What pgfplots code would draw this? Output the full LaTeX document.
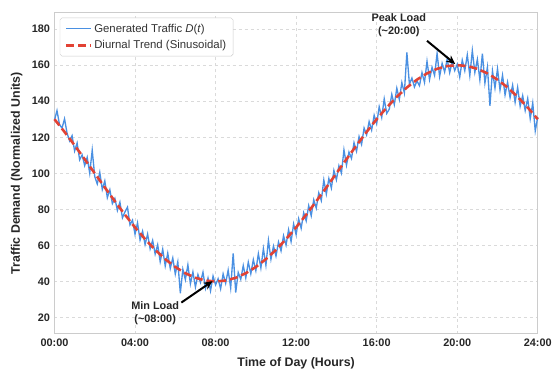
\documentclass[border=0pt]{standalone}
\usepackage{pgfplots}
\pgfplotsset{compat=1.18}
\usepackage{fontspec}
\setmainfont{Liberation Sans}
\usetikzlibrary{arrows.meta}
\definecolor{trafblue}{RGB}{74,144,226}
\definecolor{trendred}{RGB}{226,66,52}
\definecolor{gridgray}{RGB}{218,218,218}
\definecolor{framegray}{RGB}{204,204,204}
\begin{document}
\begin{tikzpicture}
\begin{axis}[
  scale only axis, width=488pt, height=324pt,
  at={(0pt,0pt)}, anchor=south west,
  xmin=0, xmax=24, ymin=11, ymax=189,
  xtick={0,4,8,12,16,20,24},
  xticklabels={00:00,04:00,08:00,12:00,16:00,20:00,24:00},
  ytick={20,40,60,80,100,120,140,160,180},
  major tick length=0pt,
  /pgf/number format/assume math mode=true,
  tick label style={font=\bfseries\fontsize{11}{13}\selectfont, text=black!85},
  xticklabel style={yshift=-2pt},
  yticklabel style={xshift=-1pt},
  grid=major,
  grid style={gridgray, dashed, line width=0.6pt},
  axis line style={framegray, line width=0.8pt},
  xlabel={Time of Day (Hours)},
  ylabel={Traffic Demand (Normalized Units)},
  label style={font=\bfseries\fontsize{12.5}{14}\selectfont, text=black!85},
  xlabel style={at={(axis description cs:0.5,0)}, anchor=center, yshift=-30pt},
  ylabel style={at={(axis description cs:-0.078,0.5)}, anchor=center},
  legend style={at={(axis description cs:0.011,0.985)}, anchor=north west,
    draw=framegray, rounded corners=2pt, fill=white,
    font=\fontsize{11.5}{13.5}\selectfont, text=black!80,
    row sep=3pt, inner xsep=5pt, inner ysep=4pt},
  legend cell align=left,
  legend image code/.code={\draw[#1] (0pt,0pt) -- (25pt,0pt);},
  clip=false,
]
\addplot[trafblue, line width=1.35pt] coordinates {
(0,129.5)(0.125,134.8)(0.25,127.0)(0.375,125.1)(0.5,130.2)(0.625,122.3)(0.75,118.0)(0.875,120.9)
(1.0,112.4)(1.125,116.8)(1.25,107.5)(1.375,110.2)(1.5,104.3)(1.625,108.9)(1.75,100.1)(1.875,112.8)
(2.0,98.2)(2.125,94.1)(2.25,100.6)(2.375,91.0)(2.5,95.8)(2.625,86.5)(2.75,90.9)(2.875,83.2)
(3.0,86.1)(3.125,79.4)(3.25,84.0)(3.375,75.3)(3.5,78.6)(3.625,81.2)(3.75,71.4)(3.875,74.0)
(4.0,66.2)(4.125,72.5)(4.25,63.0)(4.375,67.9)(4.5,60.5)(4.625,66.3)(4.75,58.1)(4.875,62.8)
(5.0,55.2)(5.125,60.4)(5.25,51.0)(5.375,57.9)(5.5,48.6)(5.625,55.7)(5.75,47.2)(5.875,53.0)
(6.0,44.1)(6.125,50.9)(6.25,33.5)(6.375,46.8)(6.5,41.0)(6.625,49.2)(6.75,38.7)(6.875,45.3)
(7.0,36.9)(7.125,43.8)(7.25,39.5)(7.375,45.1)(7.5,36.2)(7.625,41.9)(7.75,34.8)(7.875,43.0)
(8.0,38.1)(8.125,41.5)(8.25,35.9)(8.375,44.2)(8.5,39.0)(8.625,46.3)(8.75,36.4)(8.875,55.6)
(9.0,33.9)(9.125,45.0)(9.25,41.2)(9.375,48.8)(9.5,42.0)(9.625,50.7)(9.75,44.3)(9.875,52.1)
(10.0,46.0)(10.125,55.4)(10.25,47.5)(10.375,58.2)(10.5,49.0)(10.625,62.8)(10.75,52.3)(10.875,59.6)
(11.0,54.1)(11.125,61.9)(11.25,57.0)(11.375,65.4)(11.5,60.2)(11.625,68.7)(11.75,62.1)(11.875,71.9)
(12.0,66.0)(12.125,74.8)(12.25,69.5)(12.375,78.1)(12.5,73.6)(12.625,82.0)(12.75,76.4)(12.875,85.3)
(13.0,80.7)(13.125,89.2)(13.25,84.9)(13.375,96.3)(13.5,88.5)(13.625,97.1)(13.75,91.8)(13.875,101.6)
(14.0,96.4)(14.125,104.2)(14.25,100.1)(14.375,113.0)(14.5,104.5)(14.625,111.8)(14.75,108.3)(14.875,117.0)
(15.0,112.2)(15.125,120.4)(15.25,116.0)(15.375,125.1)(15.5,121.3)(15.625,128.7)(15.75,124.0)(15.875,132.2)
(16.0,127.5)(16.125,136.9)(16.25,131.0)(16.375,141.3)(16.5,133.2)(16.625,135.6)(16.75,143.8)(16.875,138.1)
(17.0,147.2)(17.125,141.0)(17.25,150.3)(17.375,144.6)(17.5,167.0)(17.625,149.5)(17.75,152.8)(17.875,147.9)
(18.0,151.2)(18.125,148.6)(18.25,155.9)(18.375,150.4)(18.5,162.1)(18.625,152.0)(18.75,158.8)(18.875,154.3)
(19.0,166.5)(19.125,153.7)(19.25,161.0)(19.375,156.2)(19.5,163.4)(19.625,155.8)(19.75,161.9)(19.875,157.0)
(20.0,160.5)(20.125,153.4)(20.25,162.8)(20.375,156.9)(20.5,165.7)(20.625,154.2)(20.75,168.1)(20.875,156.0)
(21.0,163.2)(21.125,151.8)(21.25,166.4)(21.375,150.1)(21.5,158.9)(21.625,137.5)(21.75,156.8)(21.875,147.3)
(22.0,158.0)(22.125,146.2)(22.25,154.4)(22.375,143.5)(22.5,150.6)(22.625,142.0)(22.75,148.9)(22.875,139.4)
(23.0,147.7)(23.125,137.2)(23.25,143.1)(23.375,134.8)(23.5,141.5)(23.625,130.3)(23.75,139.0)(23.875,123.5)
(24.0,131.2)
};
\addlegendentry{Generated Traffic \textit{D}(\textit{t})}
\addplot[trendred, line width=2.6pt, dash pattern=on 8pt off 4pt] coordinates {
(0,130)(0.5,122.96)(1,115.53)(1.5,107.83)(2,100)(2.5,92.17)(3,84.47)(3.5,77.04)
(4,70)(4.5,63.47)(5,57.57)(5.5,52.40)(6,48.04)(6.5,44.57)(7,42.04)(7.5,40.51)
(8,40)(8.5,40.51)(9,42.04)(9.5,44.57)(10,48.04)(10.5,52.40)(11,57.57)(11.5,63.47)
(12,70)(12.5,77.04)(13,84.47)(13.5,92.17)(14,100)(14.5,107.83)(15,115.53)(15.5,122.96)
(16,130)(16.5,136.53)(17,142.43)(17.5,147.60)(18,151.96)(18.5,155.43)(19,157.96)(19.5,159.49)
(20,160)(20.5,159.49)(21,157.96)(21.5,155.43)(22,151.96)(22.5,147.60)(23,142.43)(23.5,136.53)
(24,130)
};
\addlegendentry{Diurnal Trend (Sinusoidal)}
\draw[-{Stealth[length=9pt,width=8pt]}, line width=2pt, black] (axis cs:18.5,173.5) -- (axis cs:19.9,160.6);
\node[align=center, font=\bfseries\fontsize{11}{13}\selectfont, text=black!85] at (axis cs:17.1,182) {Peak Load\\(\textasciitilde20:00)};
\draw[-{Stealth[length=9pt,width=8pt]}, line width=2pt, black] (axis cs:6.3,28.3) -- (axis cs:7.85,40.2);
\node[align=center, font=\bfseries\fontsize{11}{13}\selectfont, text=black!85] at (axis cs:5.0,22.5) {Min Load\\(\textasciitilde08:00)};
\end{axis}
\path (-55pt,-40pt) rectangle (500pt,337pt);
\end{tikzpicture}
\end{document}
